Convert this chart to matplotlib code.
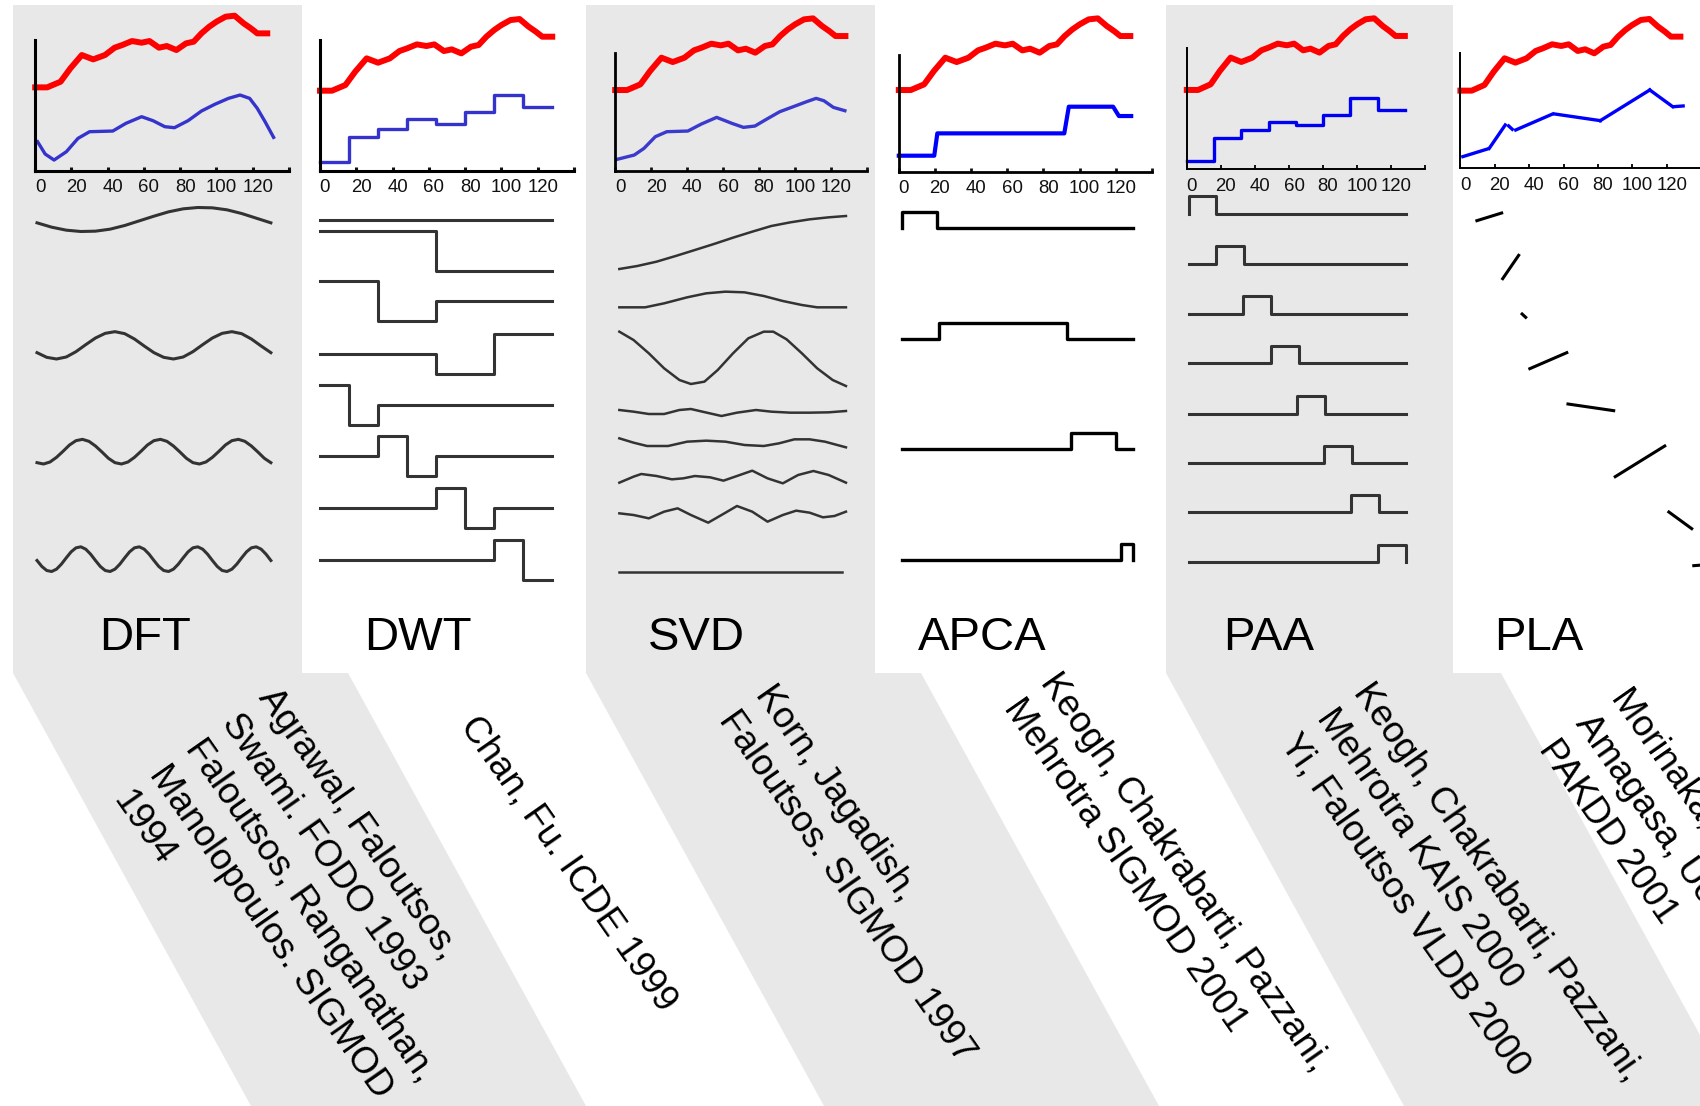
import numpy as np
import matplotlib
matplotlib.use("Agg")
import matplotlib.pyplot as plt
from matplotlib.patches import Polygon, Rectangle
from matplotlib.transforms import ScaledTranslation

plt.rcParams['font.family'] = ['Liberation Sans', 'DejaVu Sans']

W, H, DPI = 1700, 1106, 100

# ---------------- data ----------------
# raw series (red), same in every panel
red_t = [0, 6.6, 14, 19.4, 25.7, 32, 38.5, 43.8, 48, 53.4, 58.7, 63, 68.3, 72.6,
         77.9, 83.2, 87.4, 91.7, 96, 100, 105, 110, 115, 119, 122.5, 128]
red_v = [2.50, 2.50, 2.67, 3.07, 3.47, 3.34, 3.47, 3.69, 3.77, 3.89, 3.84, 3.89, 3.69, 3.74,
         3.62, 3.82, 3.87, 4.12, 4.32, 4.47, 4.62, 4.65, 4.42, 4.27, 4.12, 4.12]

# approximations (blue)
dft_t = [1.3, 5.5, 10.4, 17.2, 23.6, 30, 42.8, 50, 58.7, 65, 71.5, 76.8, 84.3, 91.7,
         99, 106.6, 113, 118.3, 122.5, 126.8, 131.5]
dft_v = [0.87, 0.50, 0.32, 0.57, 0.97, 1.17, 1.19, 1.42, 1.62, 1.50, 1.32, 1.29, 1.50, 1.79,
         1.99, 2.17, 2.27, 2.17, 1.87, 1.47, 1.00]

seg_edges = [0, 16, 32, 48, 64, 80, 96, 112, 128]
dwt_v = [0.35, 1.10, 1.35, 1.65, 1.50, 1.85, 2.37, 2.00]

svd_t = [1, 10.6, 16, 22.3, 28.7, 40.4, 47.9, 56.4, 64.9, 71.3, 77.7, 84, 91.5, 99,
         106.4, 111.7, 116, 121.3, 127.7]
svd_v = [0.42, 0.55, 0.75, 1.10, 1.25, 1.27, 1.48, 1.68, 1.50, 1.38, 1.42, 1.62, 1.85, 2.00,
         2.15, 2.25, 2.18, 1.98, 1.88]

apca_t = [0, 19.6, 21.3, 91.5, 94, 118.5, 121.7, 128.5]
apca_v = [0.53, 0.53, 1.20, 1.20, 2.00, 2.00, 1.72, 1.72]

paa_v = [0.37, 1.07, 1.30, 1.55, 1.45, 1.75, 2.25, 1.90]

pla_t0 = [1.4, 16.8, 28.1, 32.2, 54.8, 81.4, 110.2, 124.5]
pla_t1 = [15.8, 26.1, 30.2, 53.7, 81.4, 110.2, 123.5, 129.6]
pla_v0 = [0.52, 0.77, 1.44, 1.32, 1.80, 1.60, 2.52, 2.02]
pla_v1 = [0.75, 1.47, 1.34, 1.80, 1.60, 2.52, 2.02, 2.04]

# basis functions
dft_basis = [
    [-0.10, -0.23, -0.32, -0.36, -0.35, -0.29, -0.18, -0.04, 0.10, 0.23, 0.32, 0.36,
     0.35, 0.29, 0.18, 0.04, -0.10],
    [-0.22, -0.36, -0.41, -0.35, -0.19, 0.02, 0.22, 0.36, 0.41, 0.35, 0.19, -0.02,
     -0.22, -0.36, -0.41, -0.35, -0.19, 0.02, 0.22, 0.36, 0.41, 0.35, 0.19, -0.02, -0.22],
    [-0.33, -0.37, -0.31, -0.17, 0.01, 0.20, 0.33, 0.37, 0.31, 0.17, -0.01, -0.20,
     -0.33, -0.37, -0.31, -0.17, 0.01, 0.20, 0.33, 0.37, 0.31, 0.17, -0.01, -0.20,
     -0.33, -0.37, -0.31, -0.17, 0.01, 0.20, 0.33, 0.37, 0.31, 0.17, -0.01, -0.20, -0.33],
    [-0.04, -0.22, -0.34, -0.37, -0.30, -0.15, 0.04, 0.22, 0.34, 0.37, 0.30, 0.15,
     -0.04, -0.22, -0.34, -0.37, -0.30, -0.15, 0.04, 0.22, 0.34, 0.37, 0.30, 0.15,
     -0.04, -0.22, -0.34, -0.37, -0.30, -0.15, 0.04, 0.22, 0.34, 0.37, 0.30, 0.15,
     -0.04, -0.22, -0.34, -0.37, -0.30, -0.15, 0.04, 0.22, 0.34, 0.37, 0.30, 0.15, -0.04],
]

dwt_basis = [
    [0, 0, 0, 0, 0, 0, 0, 0],
    [1, 1, 1, 1, -1, -1, -1, -1],
    [1, 1, -1, -1, 0, 0, 0, 0],
    [0, 0, 0, 0, -1, -1, 1, 1],
    [1, -1, 0, 0, 0, 0, 0, 0],
    [0, 0, 1, -1, 0, 0, 0, 0],
    [0, 0, 0, 0, 1, -1, 0, 0],
    [0, 0, 0, 0, 0, 0, 1, -1],
]

svd_basis_t = [
    [2.3, 12.3, 23.0, 33.6, 44.3, 54.9, 65.5, 76.2, 86.8, 97.4, 108.1, 118.7, 128.3],
    [2.3, 16.6, 27.2, 40.0, 50.6, 61.3, 71.9, 82.6, 93.2, 103.8, 112.3, 128.3],
    [2.3, 10.2, 18.7, 27.2, 35.7, 42.1, 49.6, 57.0, 65.5, 74.0, 82.6, 87.9, 95.3, 103.8,
     112.3, 120.9, 128.3],
    [2.3, 10.2, 18.7, 27.2, 35.7, 42.1, 48.5, 59.1, 67.7, 78.3, 86.8, 97.4, 108.1, 118.7, 128.3],
    [2.3, 10.2, 17.7, 29.4, 40.0, 50.6, 61.3, 71.9, 82.6, 91.1, 99.6, 108.1, 116.6, 128.3],
    [2.3, 10.2, 14.5, 23.0, 31.5, 37.9, 44.3, 52.8, 60.2, 67.7, 76.2, 84.7, 93.2, 101.7,
     110.2, 118.7, 128.3],
    [2.3, 10.2, 18.7, 27.2, 34.7, 42.1, 51.7, 59.1, 67.7, 76.2, 84.7, 93.2, 100.6, 108.1,
     115.5, 121.9, 128.3],
    [2.3, 126.2],
]
svd_basis_v = [
    [-0.80, -0.71, -0.58, -0.41, -0.23, -0.05, 0.14, 0.32, 0.49, 0.60, 0.69, 0.75, 0.79],
    [-0.22, -0.22, -0.10, 0.08, 0.20, 0.25, 0.23, 0.12, -0.03, -0.15, -0.22, -0.22],
    [0.80, 0.55, 0.15, -0.30, -0.65, -0.77, -0.70, -0.35, 0.15, 0.60, 0.80, 0.80, 0.57, 0.15,
     -0.30, -0.65, -0.83],
    [0.08, 0.03, -0.04, -0.04, 0.08, 0.11, 0.03, -0.10, 0.00, 0.08, 0.03, 0.00, 0.00, 0.01, 0.05],
    [0.15, 0.02, -0.08, -0.08, 0.05, 0.08, 0.05, -0.05, -0.08, 0.00, 0.12, 0.12, 0.05, -0.12],
    [-0.16, 0.02, 0.10, 0.04, -0.06, -0.03, 0.04, 0.00, -0.10, 0.04, 0.20, -0.03, -0.18, 0.07,
     0.19, 0.07, -0.16],
    [0.02, -0.03, -0.13, 0.07, 0.17, -0.03, -0.26, -0.03, 0.24, 0.07, -0.23, -0.03, 0.10, 0.04,
     -0.10, -0.06, 0.07],
    [0.0, 0.0],
]

apca_boxes = [(1.5, 21.1), (22.1, 92.8), (95.1, 120.0), (122.6, 129.6)]
paa_boxes = [(1.2, 17.0), (17.0, 33.4), (33.0, 49.2), (49.2, 65.6),
             (64.6, 81.0), (80.6, 97.0), (96.6, 112.8), (112.4, 128.8)]

tick_vals = [0, 20, 40, 60, 80, 100, 120, 140]
tick_text = ['0', '20', '40', '60', '80', '100', '120', '']

titles = ['DFT', 'DWT', 'SVD', 'APCA', 'PAA', 'PLA']
citations = [
    ['Agrawal, Faloutsos,', 'Swami. FODO 1993', 'Faloutsos, Ranganathan,',
     'Manolopoulos. SIGMOD', '1994'],
    ['Chan, Fu. ICDE 1999'],
    ['Korn, Jagadish,', 'Faloutsos. SIGMOD 1997'],
    ['Keogh, Chakrabarti, Pazzani,', 'Mehrotra SIGMOD 2001'],
    ['Keogh, Chakrabarti, Pazzani,', 'Mehrotra KAIS 2000', 'Yi, Faloutsos VLDB 2000'],
    ['Morinaka, Yoshikawa,', 'Amagasa, Uemura.', 'PAKDD 2001'],
]

# ---------------- layout (pixels of the 1700x1106 canvas) ----------------
panel_left = [13, 302, 586, 875, 1166, 1453, W]
shaded = [True, False, True, False, True, False]
top_box = [(35.2, 40, 289, 170.7), (320, 40, 574, 170.7), (615.2, 53.3, 867, 170.7),
           (898.8, 55, 1152, 171.7), (1186.8, 48.3, 1425.3, 169.3), (1460.4, 52.7, 1701, 168.3)]
v_floor = [0.0, 0.10, 0.08, 0.05, 0.12, 0.17]
spine_lw = [2.2, 2.2, 2.0, 2.0, 1.4, 1.4]
blue_col = ['#3434cc', '#3434cc', '#3a3acc', '#0000ff', '#0000f0', '#0000ff']
blue_lw = [2.4, 2.4, 2.4, 3.0, 2.4, 2.4]
title_x = [99, 364, 648, 918, 1223, 1494]
title_y = 649.5
cite_xy = [(280, 682), (482, 710), (777, 679), (1062, 667), (1375, 677), (1633, 682)]
CITE_ANGLE, CITE_STEP, CITE_SIZE = 55.0, 44.5, 26.5

dft_rows = [0.885, 4.66, 7.85, 11.075]
dwt_rows = [0.90, 1.82, 3.335, 4.91, 6.44, 7.99, 9.53, 11.09]
svd_rows = [1.57, 3.30, 5.05, 6.68, 7.60, 8.62, 9.72, 11.45]
apca_rows = [1.15, 4.47, 7.77, 11.10]
paa_rows = [0.72, 2.22, 3.72, 5.20, 6.72, 8.20, 9.67, 11.17]
pla_rows = [1.44, 3.43, 5.16, 6.68, 8.22, 10.2, 12.18, 13.29]
pla_dx = [8.2, 7.8, 7.8, 8.2, 7.8, 8.7, 11.1, 11.3]
DWT_AMP, APCA_H, PAA_H = 0.6, 0.49, 0.53
PX_PER_V = 100 / 3
GRAY = '#e8e8e8'
BASIS = '#333333'
TICK_FONT = ['Liberation Sans Narrow', 'Liberation Sans', 'DejaVu Sans']

fig = plt.figure(figsize=(W / DPI, H / DPI), dpi=DPI)


def px_axes(x0, y0, x1, y1):
    return fig.add_axes([x0 / W, 1 - y1 / H, (x1 - x0) / W, (y1 - y0) / H])


def steps(edges, vals):
    xs, ys = [], []
    for i, v in enumerate(vals):
        xs += [edges[i], edges[i + 1]]
        ys += [v, v]
    return xs, ys


def box_line(a, b, t0, t1, h):
    return [t0, a, a, b, b, t1], [0, 0, h, h, 0, 0]


# background bands
bg = px_axes(0, 0, W, H)
bg.set_xlim(0, W)
bg.set_ylim(H, 0)
bg.axis('off')
TOP, SPLIT, SLANT, PARA_W = 5, 673, 238, 335
for i in range(6):
    if not shaded[i]:
        continue
    left, right = panel_left[i], panel_left[i + 1]
    bg.add_patch(Rectangle((left, TOP), right - left, SPLIT - TOP, color=GRAY, lw=0))
    bg.add_patch(Polygon([(left, SPLIT), (left + PARA_W, SPLIT),
                          (left + PARA_W + SLANT, H), (left + SLANT, H)],
                         closed=True, color=GRAY, lw=0))


def top_axes(i):
    x0, y0, x1, y1 = top_box[i]
    ax = px_axes(x0, y0, x1, y1)
    ax.set_xlim(0, 140)
    ax.set_ylim(v_floor[i], v_floor[i] + (y1 - y0) / PX_PER_V)
    ax.patch.set_visible(False)
    for s in ('top', 'right'):
        ax.spines[s].set_visible(False)
    for s in ('left', 'bottom'):
        ax.spines[s].set_linewidth(spine_lw[i])
    ax.set_xticks(tick_vals)
    ax.set_xticklabels(tick_text, family=TICK_FONT, fontsize=13.4)
    ax.set_yticks([])
    ax.tick_params(axis='x', direction='in', length=3, width=spine_lw[i],
                   pad=6.0, colors='#111111')
    # labels sit a little right of their ticks in the original
    shift = ScaledTranslation(5 / DPI, 0, fig.dpi_scale_trans)
    for lab in ax.get_xticklabels():
        lab.set_transform(lab.get_transform() + shift)
    ax.plot(red_t, red_v, color='#ff0000', lw=4.3, clip_on=False, solid_joinstyle='round')
    return ax


def basis_axes(i):
    x0, y0, x1, y1 = top_box[i]
    ax = px_axes(x0, 190, x1, 590)
    ax.set_xlim(0, 140)
    ax.set_ylim(-12, 0)
    ax.axis('off')
    return ax


# DFT
ax = top_axes(0)
ax.plot(dft_t, dft_v, color=blue_col[0], lw=blue_lw[0], clip_on=False)
bx = basis_axes(0)
for row, pos in zip(dft_basis, dft_rows):
    t = np.linspace(1, 130, len(row))
    bx.plot(t, np.array(row) - pos, color=BASIS, lw=2.2, clip_on=False)

# DWT
ax = top_axes(1)
xs, ys = steps(seg_edges, dwt_v)
ax.plot(xs, ys, color=blue_col[1], lw=blue_lw[1], clip_on=False)
bx = basis_axes(1)
for row, pos in zip(dwt_basis, dwt_rows):
    xs, ys = steps(seg_edges, row)
    bx.plot(xs, np.array(ys) * DWT_AMP - pos, color=BASIS, lw=2.2, clip_on=False)

# SVD
ax = top_axes(2)
ax.plot(svd_t, svd_v, color=blue_col[2], lw=blue_lw[2], clip_on=False)
bx = basis_axes(2)
for t, v, pos in zip(svd_basis_t, svd_basis_v, svd_rows):
    bx.plot(t, np.array(v) - pos, color=BASIS, lw=1.8, clip_on=False)

# APCA
ax = top_axes(3)
ax.plot(apca_t, apca_v, color=blue_col[3], lw=blue_lw[3], clip_on=False)
bx = basis_axes(3)
for (a, b), pos in zip(apca_boxes, apca_rows):
    xs, ys = box_line(a, b, apca_boxes[0][0], apca_boxes[-1][1], APCA_H)
    bx.plot(xs, np.array(ys) - pos, color='black', lw=2.4, clip_on=False)

# PAA
ax = top_axes(4)
xs, ys = steps(seg_edges, paa_v)
ax.plot(xs, ys, color=blue_col[4], lw=blue_lw[4], clip_on=False)
bx = basis_axes(4)
for (a, b), pos in zip(paa_boxes, paa_rows):
    xs, ys = box_line(a, b, paa_boxes[0][0], paa_boxes[-1][1], PAA_H)
    bx.plot(xs, np.array(ys) - pos, color=BASIS, lw=2.2, clip_on=False)

# PLA
ax = top_axes(5)
bx = basis_axes(5)
for k in range(len(pla_t0)):
    ax.plot([pla_t0[k], pla_t1[k]], [pla_v0[k], pla_v1[k]],
            color=blue_col[5], lw=blue_lw[5], clip_on=False)
    bx.plot([pla_t0[k] + pla_dx[k], pla_t1[k] + pla_dx[k]],
            [pla_v0[k] - pla_rows[k], pla_v1[k] - pla_rows[k]],
            color='black', lw=2.2, clip_on=False)

# titles and references (one text per line, stacked perpendicular to the slant)
a = np.deg2rad(CITE_ANGLE)
step_x, step_y = -np.sin(a) * CITE_STEP, np.cos(a) * CITE_STEP
for i in range(6):
    bg.text(title_x[i], title_y, titles[i], fontsize=34, ha='left', va='baseline')
    x, y = cite_xy[i]
    for j, line in enumerate(citations[i]):
        bg.text(x + j * step_x, y + j * step_y, line, rotation=-CITE_ANGLE,
                rotation_mode='anchor', ha='left', va='top', fontsize=CITE_SIZE)

fig.savefig('out.png', dpi=DPI)
